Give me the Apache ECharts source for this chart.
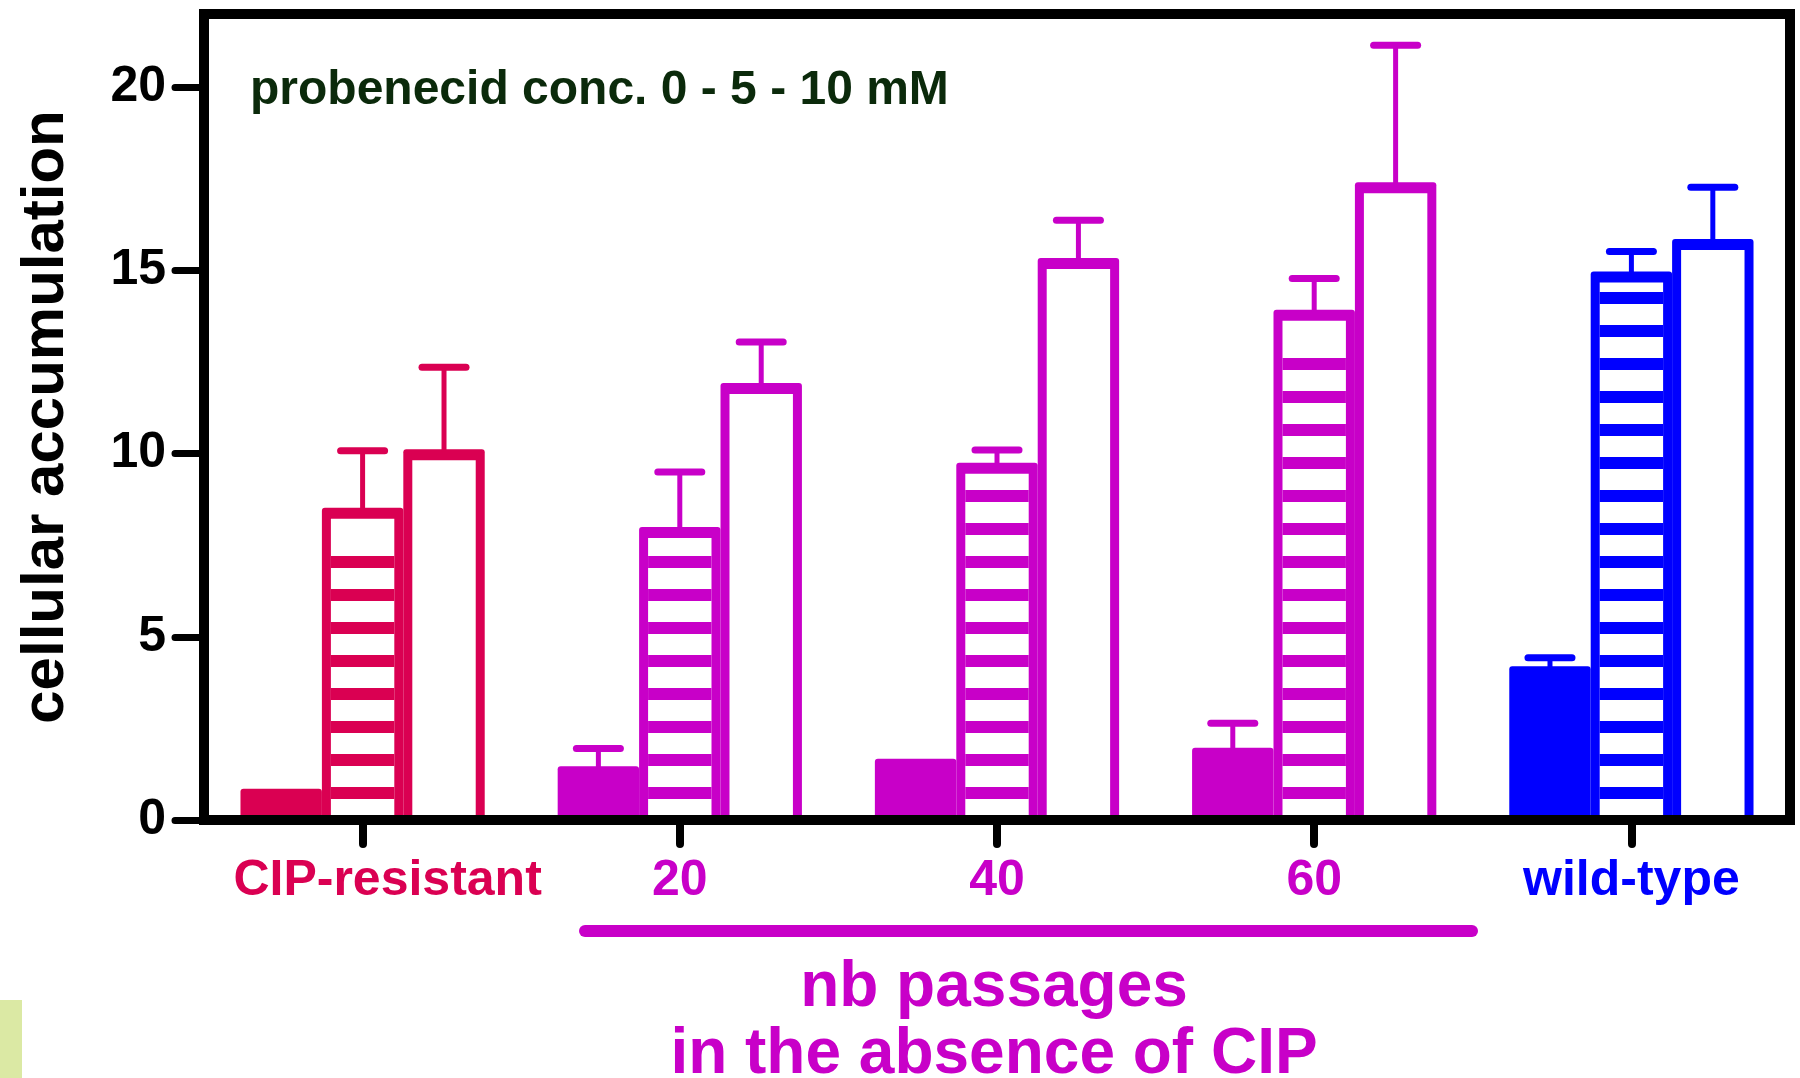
<!DOCTYPE html>
<html>
<head>
<meta charset="utf-8">
<script src="https://cdn.jsdelivr.net/npm/echarts@6/dist/echarts.min.js"></script>
<style>
html,body{margin:0;padding:0;background:#fff;}
#chart{width:1800px;height:1078px;}
</style>
</head>
<body>
<div id="chart"></div>
<script>
// ---- data ----
var categories = ['CIP-resistant', '20', '40', '60', 'wild-type'];
var conc0 = [0.85, 1.47, 1.67, 1.97, 4.2];
var conc0Err = [0, 0.48, 0, 0.67, 0.23];
var conc5 = [8.52, 8.0, 9.75, 13.93, 14.97];
var conc5Err = [1.56, 1.5, 0.35, 0.85, 0.55];
var conc10 = [10.12, 11.93, 15.34, 17.41, 15.86];
var conc10Err = [2.24, 1.12, 1.03, 3.74, 1.41];
var yTicks = [0, 5, 10, 15, 20];
var groupColors = ['#DA0052', '#C800C8', '#C800C8', '#C800C8', '#0000FF'];

var FONT = '"Liberation Sans", Arial, sans-serif';

function makeSeries(values, errs, idx, style) {
  var data = values.map(function (v, i) { return [i, v, errs[i]]; });
  return {
    type: 'custom',
    name: 'conc' + idx,
    data: data,
    encode: { x: 0, y: 1 },
    z: 3,
    renderItem: function (params, api) {
      var ci = api.value(0);
      var v = api.value(1);
      var e = api.value(2);
      var color = groupColors[ci];
      var top = api.coord([ci, v]);
      var base = api.coord([ci, 0]);
      var band = api.size([1, 0])[0];
      var bw = band * 0.77 / 3;
      var x0 = top[0] - 1.5 * bw + idx * bw;
      var xc = x0 + bw / 2;
      var yTop = top[1];
      var yBase = base[1];
      var h = yBase - yTop;
      var children = [];
      var bs = 9, bt = 11;
      children.push({ type: 'rect', shape: { x: x0, y: yTop, width: bw, height: h, r: [3, 3, 0, 0] }, style: { fill: color } });
      if (style !== 'filled' && h > bt) {
        var ix = x0 + bs, iy = yTop + bt, iw = bw - 2 * bs, ih = yBase - iy;
        children.push({ type: 'rect', shape: { x: ix, y: iy, width: iw, height: ih }, style: { fill: '#fff' } });
        if (style === 'hatched') {
          var gap = 21, stripe = 12;
          var y = yBase - gap - stripe;
          while (y > iy + 8) {
            children.push({ type: 'rect', shape: { x: ix, y: y, width: iw, height: stripe }, style: { fill: color } });
            y -= gap + stripe;
          }
        }
      }
      if (e > 0) {
        var yErr = api.coord([ci, v + e])[1];
        children.push({ type: 'line', shape: { x1: xc, y1: yTop + 2, x2: xc, y2: yErr }, style: { stroke: color, lineWidth: 5 } });
        children.push({ type: 'line', shape: { x1: xc - 22, y1: yErr, x2: xc + 22, y2: yErr }, style: { stroke: color, lineWidth: 7, lineCap: 'round' } });
      }
      return { type: 'group', children: children };
    }
  };
}

var chart = echarts.init(document.getElementById('chart'), null, { renderer: 'canvas' });
chart.setOption({
  animation: false,
  backgroundColor: '#fff',
  grid: { left: 204, right: 10, top: 14, bottom: 258, show: true, borderColor: '#000', borderWidth: 10, backgroundColor: 'transparent' },
  xAxis: {
    type: 'category',
    data: categories,
    z: 10,
    axisLine: { show: true, lineStyle: { color: '#000', width: 10 } },
    axisTick: { show: true, interval: 0, alignWithLabel: true, length: 24, lineStyle: { color: '#000', width: 8, cap: 'round' } },
    axisLabel: {
      interval: 0,
      margin: 36,
      fontFamily: FONT,
      fontWeight: 'bold',
      fontSize: 50,
      formatter: function (val, idx) { return idx === 0 ? '{s|' + val + '}' : val; },
      rich: { s: { padding: [0, 0, 0, 50], fontFamily: FONT, fontWeight: 'bold', fontSize: 50, color: groupColors[0] } },
      color: function (val, idx) { return groupColors[categories.indexOf(val)]; }
    },
    splitLine: { show: false }
  },
  yAxis: {
    type: 'value',
    min: 0,
    max: 22,
    interval: 5,
    z: 10,
    name: 'cellular accumulation',
    nameLocation: 'middle',
    nameRotate: 90,
    nameGap: 128,
    nameTextStyle: { fontFamily: FONT, fontWeight: 'bold', fontSize: 60, color: '#000' },
    axisLine: { show: true, lineStyle: { color: '#000', width: 10 } },
    axisTick: { show: true, length: 29, customValues: yTicks, lineStyle: { color: '#000', width: 7, cap: 'round' } },
    axisLabel: { margin: 38, customValues: yTicks, fontFamily: FONT, fontWeight: 'bold', fontSize: 50, color: '#000' },
    splitLine: { show: false }
  },
  series: [
    makeSeries(conc0, conc0Err, 0, 'filled'),
    makeSeries(conc5, conc5Err, 1, 'hatched'),
    makeSeries(conc10, conc10Err, 2, 'open')
  ],
  graphic: [
    { type: 'text', left: 250, top: 67, style: { text: 'probenecid conc. 0 - 5 - 10 mM', fill: '#0B2A0B', font: 'bold 48px ' + FONT } },
    { type: 'line', shape: { x1: 585, y1: 931, x2: 1472, y2: 931 }, style: { stroke: '#C800C8', lineWidth: 12, lineCap: 'round' } },
    { type: 'text', x: 994, y: 988, style: { text: 'nb passages', fill: '#C800C8', font: 'bold 64px ' + FONT, textAlign: 'center', textVerticalAlign: 'middle' } },
    { type: 'text', x: 994, y: 1055, style: { text: 'in the absence of CIP', fill: '#C800C8', font: 'bold 64px ' + FONT, textAlign: 'center', textVerticalAlign: 'middle' } },
    { type: 'rect', shape: { x: 0, y: 1000, width: 22, height: 78 }, style: { fill: 'rgba(190,215,90,0.55)' } }
  ]
});
</script>
</body>
</html>
